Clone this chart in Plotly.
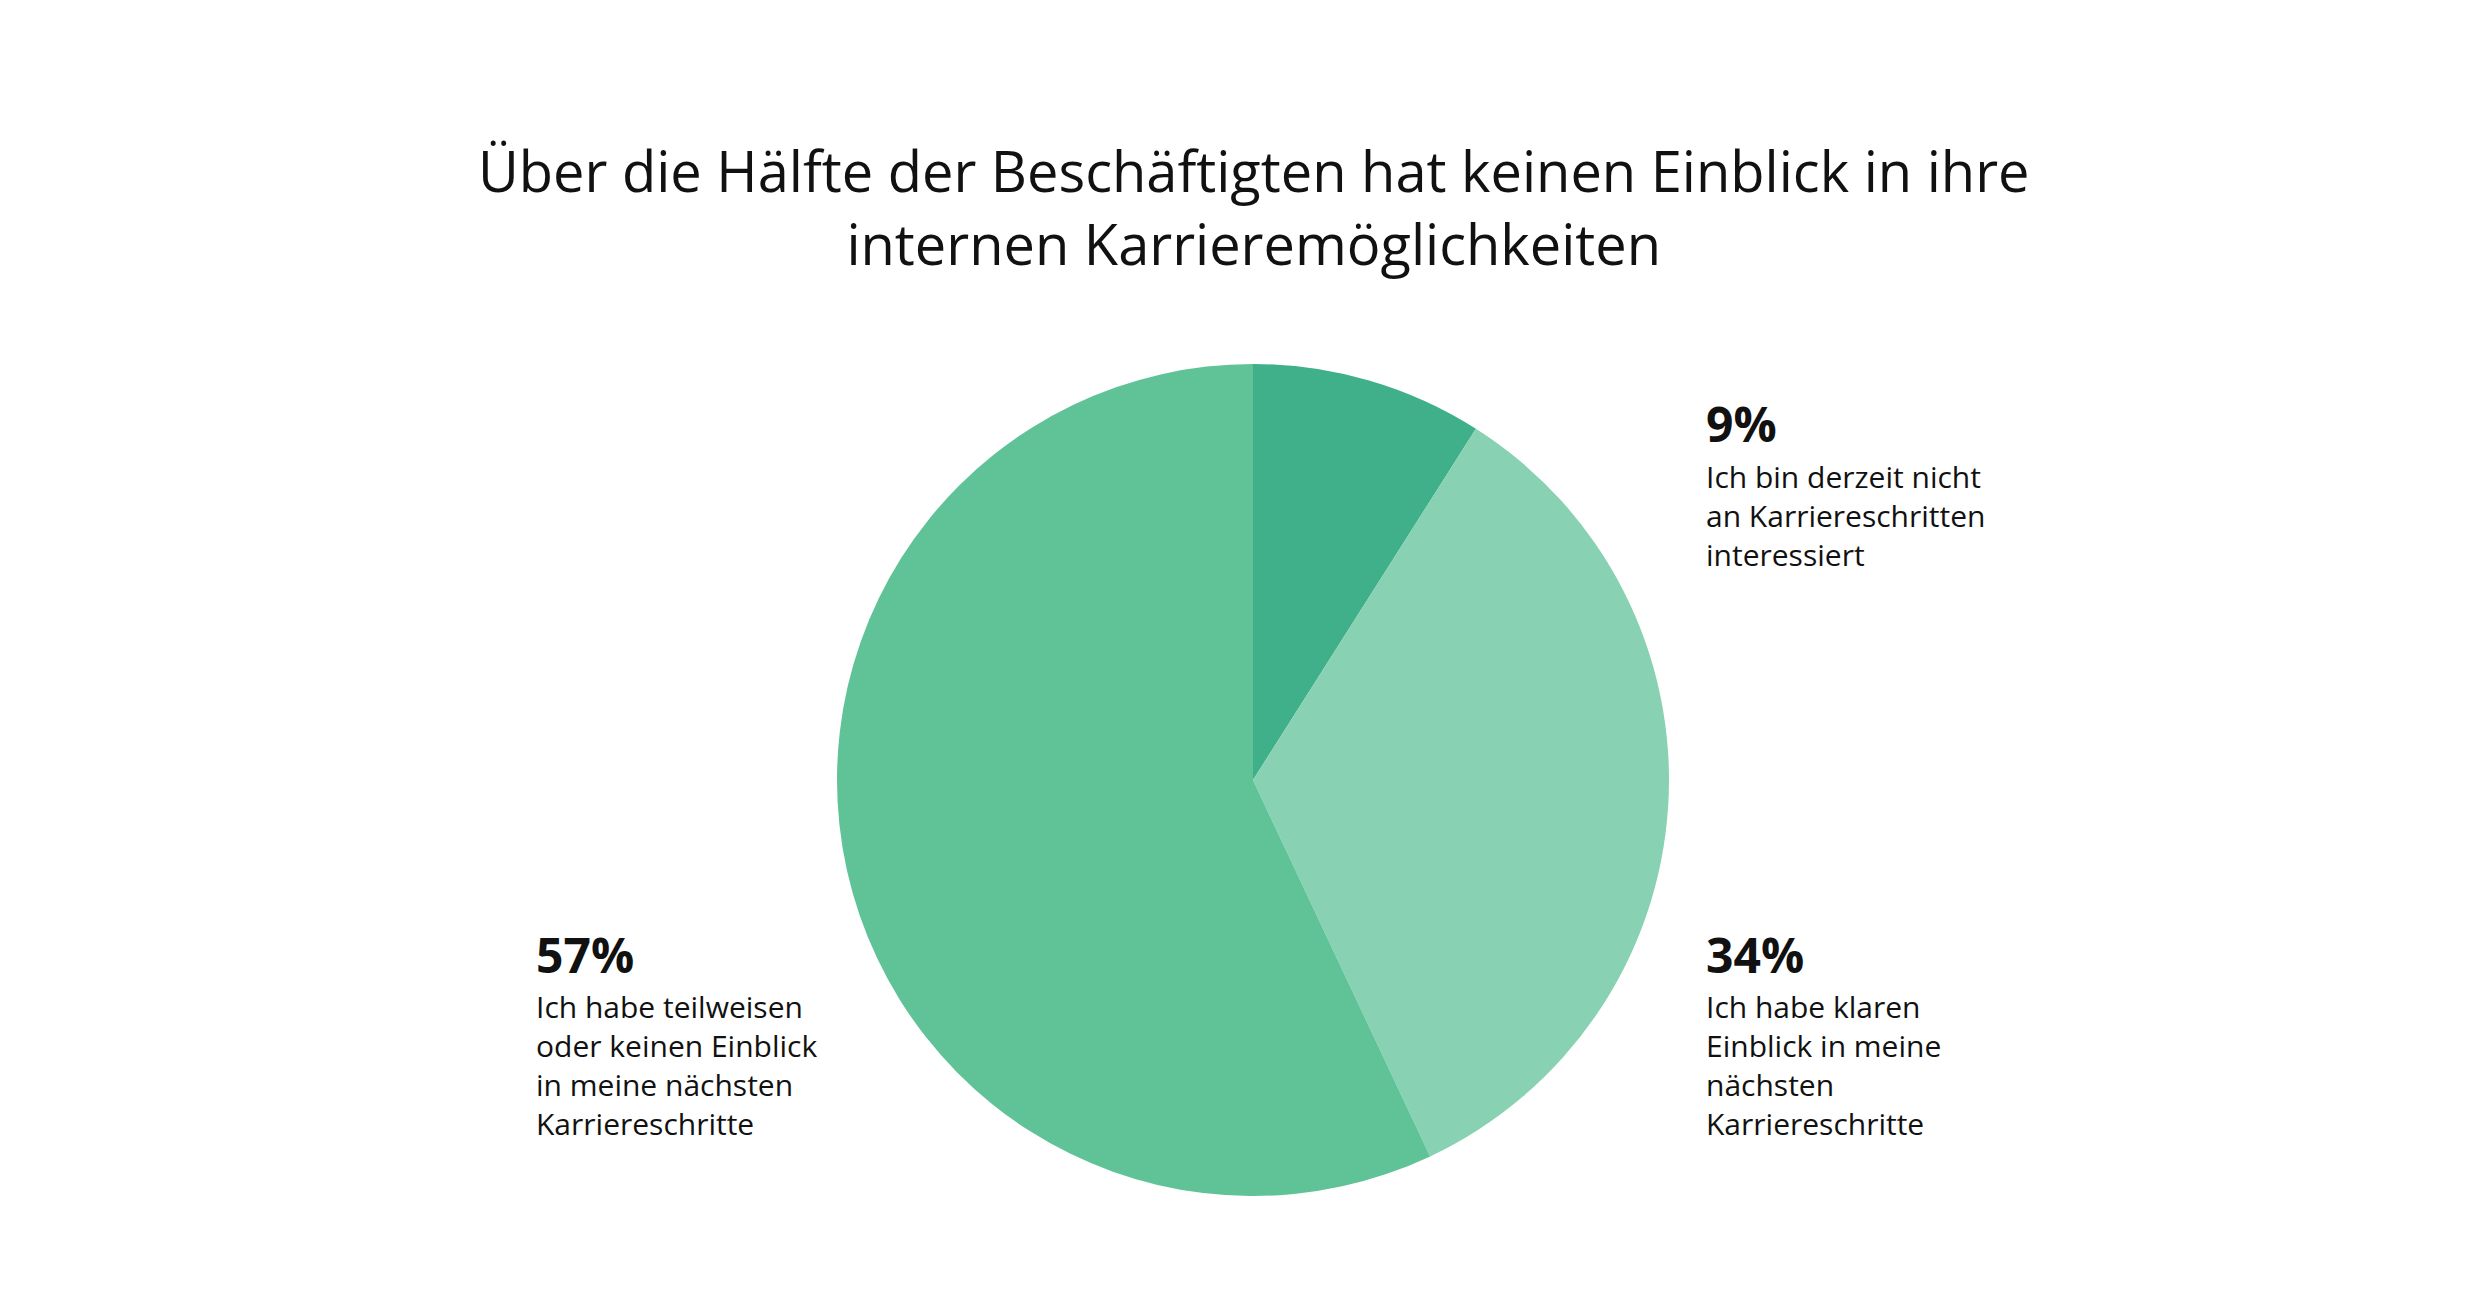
import plotly.graph_objects as go

W, H = 2490, 1301
labels = ["Ich bin derzeit nicht an Karriereschritten interessiert",
          "Ich habe klaren Einblick in meine nächsten Karriereschritte",
          "Ich habe teilweisen oder keinen Einblick in meine nächsten Karriereschritte"]
values = [9, 34, 57]
colors = ["#3FB08A", "#88D1B3", "#60C398"]
pct_texts = ["9%", "34%", "57%"]
body_texts = ["Ich bin derzeit nicht<br>an Karriereschritten<br>interessiert",
              "Ich habe klaren<br>Einblick in meine<br>nächsten<br>Karriereschritte",
              "Ich habe teilweisen<br>oder keinen Einblick<br>in meine nächsten<br>Karriereschritte"]
label_pos = [(1696, 416), (1696, 946), (526, 946)]

FONT = "Open Sans"
fig = go.Figure(go.Pie(
    values=values, labels=labels, sort=False, direction="clockwise", rotation=0,
    marker=dict(colors=colors, line=dict(width=0)), textinfo="none",
    hoverinfo="label+percent",
    domain=dict(x=[829/W, 1661/W], y=[(H-772-416)/H, (H-772+416)/H]),
))

ann = [dict(text="Über die Hälfte der Beschäftigten hat keinen Einblick in ihre<br>internen Karrieremöglichkeiten",
            x=0.5, y=1-198/H, xref="paper", yref="paper", showarrow=False,
            xanchor="center", yanchor="middle", align="center",
            font=dict(family=FONT, size=56, color="#111"))]
for p, b, (x, y) in zip(pct_texts, body_texts, label_pos):
    ann.append(dict(text="<b>%s</b>" % p, x=x/W, y=1-y/H, xref="paper", yref="paper",
                    showarrow=False, xanchor="left", yanchor="middle", align="left",
                    font=dict(family=FONT, size=48, color="#111")))
    ann.append(dict(text=b, x=x/W, y=1-(y+30)/H, xref="paper", yref="paper",
                    showarrow=False, xanchor="left", yanchor="top", align="left",
                    font=dict(family=FONT, size=30, color="#111")))

fig.update_layout(width=W, height=H, margin=dict(l=0, r=0, t=0, b=0),
                  paper_bgcolor="white", plot_bgcolor="white",
                  showlegend=False, annotations=ann)
fig.write_html("out.html")
